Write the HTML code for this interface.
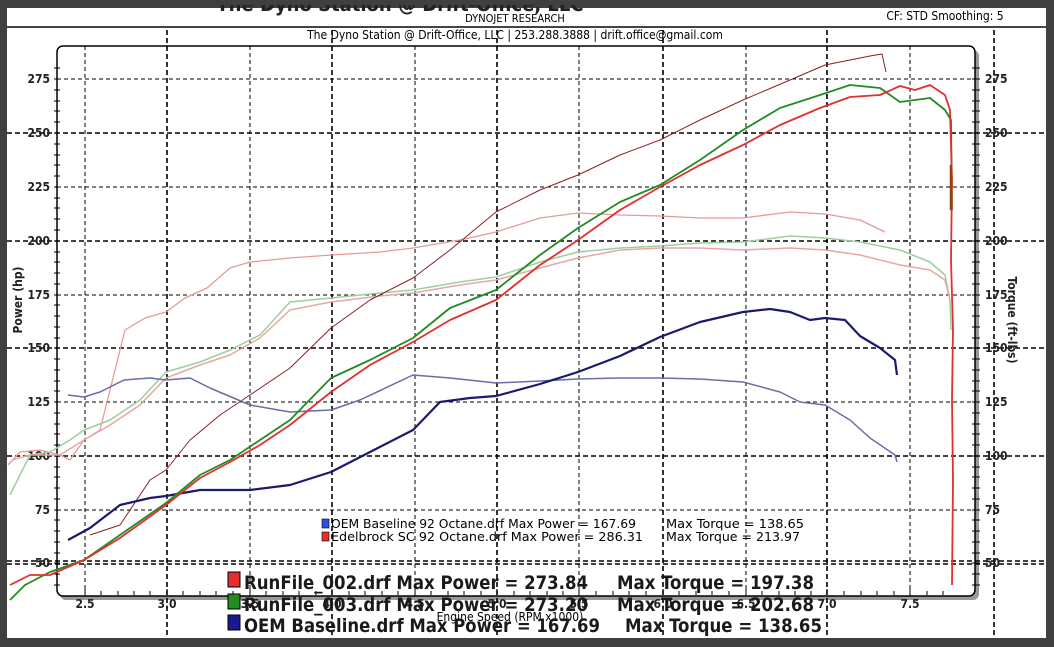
<!DOCTYPE html>
<html><head><style>
html,body{margin:0;padding:0;background:#404040;}
svg{display:block;}
text{font-family:"DejaVu Sans Condensed","Liberation Sans",sans-serif;}
</style></head><body>
<svg width="1054" height="647" viewBox="0 0 1054 647" xmlns="http://www.w3.org/2000/svg">
<rect x="0" y="0" width="1054" height="647" fill="#404040"/>
<rect x="7" y="8" width="1039" height="630" fill="#fff"/>
<!-- header -->
<text x="400" y="11" font-size="20" text-anchor="middle" fill="#222" font-weight="bold">The Dyno Station @ Drift-Office, LLC</text>
<rect x="7" y="0" width="1039" height="0" fill="#404040"/>
<rect x="0" y="0" width="1054" height="5" fill="#404040"/>
<text x="515" y="22" font-size="11" text-anchor="middle" fill="#000">DYNOJET RESEARCH</text>
<text x="945" y="20" font-size="12" text-anchor="middle" fill="#000">CF: STD  Smoothing: 5</text>
<line x1="7" y1="27" x2="1046" y2="27" stroke="#444" stroke-width="2"/>
<text x="515" y="39" font-size="12" text-anchor="middle" fill="#000">The Dyno Station @ Drift-Office, LLC | 253.288.3888 | drift.office@gmail.com</text>
<!-- plot shadow and frame -->
<rect x="60" y="50" width="919" height="550" rx="6" fill="#999"/>
<rect x="57" y="46" width="918" height="550" rx="6" fill="#fff" stroke="#000" stroke-width="1.5"/>
<g stroke="#000" fill="none">
<g stroke-width="1" stroke-dasharray="4,3">
<line x1="85" y1="46" x2="85" y2="596"/><line x1="250" y1="46" x2="250" y2="596"/><line x1="415" y1="46" x2="415" y2="596"/><line x1="579" y1="46" x2="579" y2="596"/><line x1="746" y1="46" x2="746" y2="596"/><line x1="910" y1="46" x2="910" y2="596"/>
<line x1="57" y1="79" x2="975" y2="79"/><line x1="57" y1="187" x2="975" y2="187"/><line x1="57" y1="295" x2="975" y2="295"/><line x1="57" y1="402" x2="975" y2="402"/><line x1="57" y1="510" x2="975" y2="510"/>
</g>
<g stroke-width="1.6" stroke-dasharray="5,3">
<line x1="167" y1="30" x2="167" y2="638"/><line x1="332" y1="30" x2="332" y2="638"/><line x1="497" y1="30" x2="497" y2="638"/><line x1="663" y1="30" x2="663" y2="638"/><line x1="827" y1="30" x2="827" y2="638"/><line x1="994" y1="30" x2="994" y2="638"/>
<line x1="7" y1="133" x2="1046" y2="133"/><line x1="7" y1="241" x2="1046" y2="241"/><line x1="7" y1="348" x2="1046" y2="348"/><line x1="7" y1="456" x2="1046" y2="456"/><line x1="7" y1="561" x2="1046" y2="561"/><line x1="7" y1="564" x2="1046" y2="564"/>
</g>
</g>
<g stroke="#000" stroke-width="1">
<path d="M54 68h6M54 79h6M54 90h6M54 101h6M54 111h6M54 122h6M54 133h6M54 144h6M54 155h6M54 165h6M54 176h6M54 187h6M54 198h6M54 208h6M54 219h6M54 230h6M54 241h6M54 252h6M54 262h6M54 273h6M54 284h6M54 295h6M54 305h6M54 316h6M54 327h6M54 338h6M54 348h6M54 359h6M54 370h6M54 381h6M54 391h6M54 402h6M54 413h6M54 424h6M54 434h6M54 445h6M54 456h6M54 467h6M54 477h6M54 488h6M54 499h6M54 510h6M54 520h6M54 531h6M54 542h6M54 553h6M54 563h6M54 574h6M54 585h6"/>
<path d="M972 68h8M972 79h8M972 90h8M972 101h8M972 111h8M972 122h8M972 133h8M972 144h8M972 155h8M972 165h8M972 176h8M972 187h8M972 198h8M972 208h8M972 219h8M972 230h8M972 241h8M972 252h8M972 262h8M972 273h8M972 284h8M972 295h8M972 305h8M972 316h8M972 327h8M972 338h8M972 348h8M972 359h8M972 370h8M972 381h8M972 391h8M972 402h8M972 413h8M972 424h8M972 434h8M972 445h8M972 456h8M972 467h8M972 477h8M972 488h8M972 499h8M972 510h8M972 520h8M972 531h8M972 542h8M972 553h8M972 563h8M972 574h8M972 585h8"/>
<path d="M85 595v-6M101 595v-4M118 595v-4M134 595v-4M150 595v-4M167 595v-6M183 595v-4M200 595v-4M216 595v-4M233 595v-4M250 595v-6M266 595v-4M283 595v-4M299 595v-4M316 595v-4M332 595v-6M349 595v-4M365 595v-4M382 595v-4M398 595v-4M415 595v-6M431 595v-4M448 595v-4M464 595v-4M481 595v-4M497 595v-6M514 595v-4M530 595v-4M547 595v-4M563 595v-4M579 595v-6M596 595v-4M613 595v-4M629 595v-4M646 595v-4M663 595v-6M679 595v-4M696 595v-4M712 595v-4M729 595v-4M746 595v-6M762 595v-4M779 595v-4M795 595v-4M811 595v-4M827 595v-6M844 595v-4M861 595v-4M877 595v-4M894 595v-4M910 595v-6M927 595v-4M943 595v-4"/>
</g>
<g font-size="12" font-weight="bold" fill="#222">
<text x="50" y="83" text-anchor="end">275</text><text x="50" y="137" text-anchor="end">250</text><text x="50" y="191" text-anchor="end">225</text><text x="50" y="245" text-anchor="end">200</text><text x="50" y="299" text-anchor="end">175</text><text x="50" y="352" text-anchor="end">150</text><text x="50" y="406" text-anchor="end">125</text><text x="50" y="460" text-anchor="end">100</text><text x="50" y="514" text-anchor="end">75</text><text x="50" y="567" text-anchor="end">50</text>
<text x="985" y="83">275</text><text x="985" y="137">250</text><text x="985" y="191">225</text><text x="985" y="245">200</text><text x="985" y="299">175</text><text x="985" y="352">150</text><text x="985" y="406">125</text><text x="985" y="460">100</text><text x="985" y="514">75</text><text x="985" y="567">50</text>
<text x="85" y="608" text-anchor="middle">2.5</text><text x="167" y="608" text-anchor="middle">3.0</text><text x="250" y="608" text-anchor="middle">3.5</text><text x="332" y="608" text-anchor="middle">4.0</text><text x="415" y="608" text-anchor="middle">4.5</text><text x="497" y="608" text-anchor="middle">5.0</text><text x="579" y="608" text-anchor="middle">5.5</text><text x="663" y="608" text-anchor="middle">6.0</text><text x="746" y="608" text-anchor="middle">6.5</text><text x="827" y="608" text-anchor="middle">7.0</text><text x="910" y="608" text-anchor="middle">7.5</text>
<text transform="translate(22,300) rotate(-90)" text-anchor="middle">Power (hp)</text>
<text transform="translate(1008,320) rotate(90)" text-anchor="middle">Torque (ft-lbs)</text>
</g>
<text x="510" y="621" font-size="12" text-anchor="middle" fill="#000">Engine Speed (RPM x1000)</text>
<g fill="none" stroke-linejoin="round">
<polyline stroke="#e89a9a" stroke-width="1.3" points="8,465 20,452 40,450 60,455 70,460 84,440 100,430 125,330 145,318 166,312 185,298 207,288 230,268 250,262 290,258 331,255 380,252 413,248 460,240 496,232 540,218 578,213 620,215 660,216 700,218 743,218 790,212 825,214 860,220 885,232"/>
<polyline stroke="#9ccf9c" stroke-width="1.5" points="10,495 30,455 50,452 70,440 84,430 110,420 140,400 166,372 200,362 230,350 260,335 290,302 331,298 380,293 413,290 460,282 496,277 540,262 578,252 620,248 660,246 700,243 743,242 790,236 825,238 860,242 900,250 930,262 945,275 950,300 951,330"/>
<polyline stroke="#e8a6a6" stroke-width="1.5" points="12,460 30,455 60,455 84,440 110,425 140,405 166,378 200,365 230,355 260,338 290,310 331,302 380,296 413,293 460,285 496,280 540,268 578,258 620,250 660,248 700,248 743,250 790,248 825,250 860,255 900,265 930,270 945,280 950,300"/>
<polyline stroke="#8a2020" stroke-width="1" points="90,535 120,525 150,480 166,470 190,440 220,415 250,395 290,368 331,328 370,300 413,278 450,250 496,212 540,190 578,175 620,155 660,140 700,120 743,100 790,80 825,65 850,60 870,56 882,54 886,72"/>
<polyline stroke="#6b6ba8" stroke-width="1.5" points="68,395 84,397 100,392 124,380 150,378 166,380 190,378 210,388 250,405 290,412 331,410 360,400 413,375 450,378 496,383 540,381 578,379 620,378 660,378 700,379 743,382 780,392 800,402 825,405 850,420 870,438 895,455 897,462"/>
<polyline stroke="#1a1a6e" stroke-width="2.2" points="68,540 90,528 120,505 150,498 166,496 200,490 250,490 290,485 331,472 370,452 413,430 440,402 470,398 496,396 540,384 578,372 620,356 660,337 700,322 743,312 770,309 790,312 810,320 825,318 845,320 860,336 880,348 895,360 897,375"/>
<polyline stroke="#228b22" stroke-width="1.8" points="10,600 25,585 50,572 84,560 120,535 166,503 200,475 230,460 260,440 290,420 331,378 370,360 413,338 450,308 496,290 540,255 578,228 620,202 660,185 700,160 743,130 780,108 820,95 850,85 880,88 900,102 915,100 930,98 945,110 951,120 952,210"/>
<polyline stroke="#e03030" stroke-width="1.8" points="10,585 30,575 50,575 84,560 120,538 166,505 200,478 230,462 260,445 290,425 331,392 370,365 413,342 450,320 496,300 540,265 578,240 620,210 660,187 700,165 743,145 780,125 820,108 850,97 880,95 900,86 915,90 930,85 945,95 950,110 952,180 951,260 953,330 952,400 953,480 952,585"/>
<line x1="951" y1="165" x2="951" y2="210" stroke="#8b4513" stroke-width="2.5"/>
</g>
<g font-size="12" fill="#000">
<rect x="322" y="519" width="7" height="9" fill="#3050e0" stroke="#000" stroke-width="0.6"/>
<text x="331" y="528" textLength="305" lengthAdjust="spacingAndGlyphs">OEM Baseline 92 Octane.drf Max Power = 167.69</text>
<text x="666" y="528" textLength="138" lengthAdjust="spacingAndGlyphs">Max Torque = 138.65</text>
<rect x="322" y="532" width="7" height="9" fill="#e03030" stroke="#000" stroke-width="0.6"/>
<text x="331" y="541" textLength="312" lengthAdjust="spacingAndGlyphs">Edelbrock SC 92 Octane.drf Max Power = 286.31</text>
<text x="666" y="541" textLength="134" lengthAdjust="spacingAndGlyphs">Max Torque = 213.97</text>
</g>
<g font-size="19" fill="#1a1a1a" font-weight="bold">
<rect x="228" y="572" width="12" height="15" fill="#e03030" stroke="#000"/>
<text x="244" y="589" textLength="344" lengthAdjust="spacingAndGlyphs">RunFile_002.drf Max Power = 273.84</text>
<text x="617" y="589" textLength="197" lengthAdjust="spacingAndGlyphs">Max Torque = 197.38</text>
<rect x="228" y="594" width="12" height="15" fill="#228b22" stroke="#000"/>
<text x="244" y="611" textLength="344" lengthAdjust="spacingAndGlyphs">RunFile_003.drf Max Power = 273.20</text>
<text x="617" y="611" textLength="197" lengthAdjust="spacingAndGlyphs">Max Torque = 202.68</text>
<rect x="228" y="615" width="12" height="15" fill="#1a1a8e" stroke="#000"/>
<text x="244" y="632" textLength="356" lengthAdjust="spacingAndGlyphs">OEM Baseline.drf Max Power = 167.69</text>
<text x="625" y="632" textLength="197" lengthAdjust="spacingAndGlyphs">Max Torque = 138.65</text>
</g>
</svg>
</body></html>
